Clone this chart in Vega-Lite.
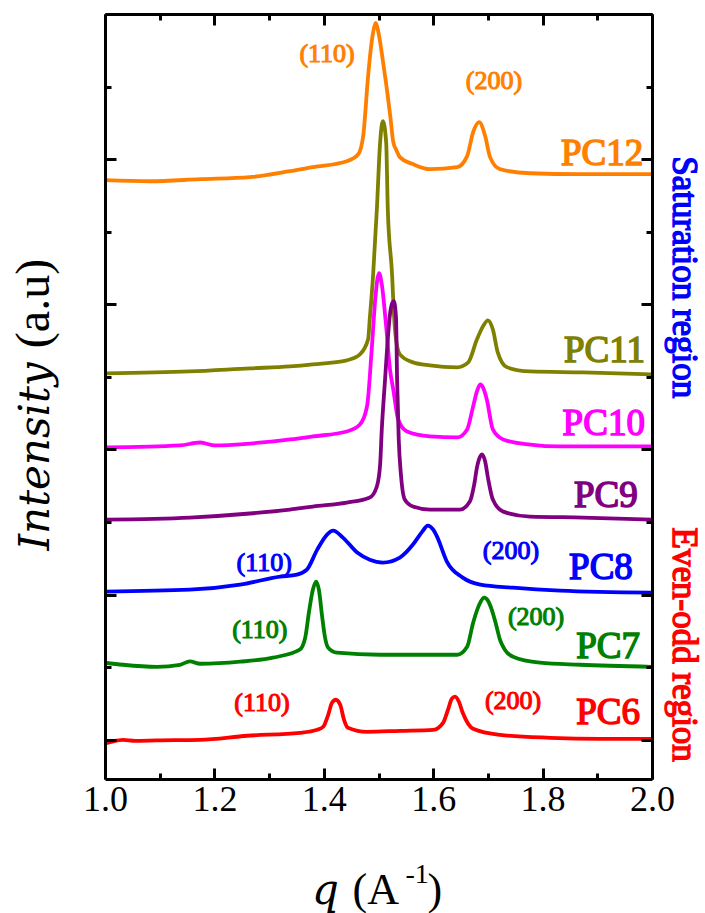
{
  "$schema": "https://vega.github.io/schema/vega-lite/v6.json",
  "width": 547,
  "height": 765,
  "autosize": {"type": "none"},
  "padding": {"left": 105, "top": 14, "right": 53, "bottom": 134},
  "background": "white",
  "config": {
    "view": {"stroke": null},
    "axis": {"grid": false, "domainColor": "black", "tickColor": "black", "domainWidth": 3, "tickWidth": 3, "labelFont": "Liberation Serif", "titleFont": "Liberation Serif", "labelColor": "black", "titleColor": "black", "labelFlush": false, "labelOverlap": false}
  },
  "datasets": {
    "curves": [
      {"s":"PC12","q":1.000,"I":3.855},{"s":"PC12","q":1.082,"I":3.848},{"s":"PC12","q":1.174,"I":3.862},{"s":"PC12","q":1.265,"I":3.876},{"s":"PC12","q":1.338,"I":3.917},{"s":"PC12","q":1.380,"I":3.945},{"s":"PC12","q":1.442,"I":3.986},{"s":"PC12","q":1.463,"I":4.034},{"s":"PC12","q":1.472,"I":4.159},{"s":"PC12","q":1.481,"I":4.572},{"s":"PC12","q":1.486,"I":4.76},{"s":"PC12","q":1.491,"I":4.89},{"s":"PC12","q":1.495,"I":4.938},{"s":"PC12","q":1.499,"I":4.89},{"s":"PC12","q":1.503,"I":4.807},{"s":"PC12","q":1.509,"I":4.65},{"s":"PC12","q":1.516,"I":4.462},{"s":"PC12","q":1.522,"I":4.28},{"s":"PC12","q":1.527,"I":4.117},{"s":"PC12","q":1.533,"I":4.06},{"s":"PC12","q":1.539,"I":4.014},{"s":"PC12","q":1.563,"I":3.966},{"s":"PC12","q":1.594,"I":3.931},{"s":"PC12","q":1.644,"I":3.945},{"s":"PC12","q":1.662,"I":4.021},{"s":"PC12","q":1.673,"I":4.186},{"s":"PC12","q":1.684,"I":4.255},{"s":"PC12","q":1.695,"I":4.159},{"s":"PC12","q":1.704,"I":4.014},{"s":"PC12","q":1.722,"I":3.931},{"s":"PC12","q":1.777,"I":3.903},{"s":"PC12","q":1.868,"I":3.897},{"s":"PC12","q":2.000,"I":3.897},

      {"s":"PC11","q":1.000,"I":2.524},{"s":"PC11","q":1.155,"I":2.538},{"s":"PC11","q":1.265,"I":2.559},{"s":"PC11","q":1.338,"I":2.572},{"s":"PC11","q":1.380,"I":2.586},{"s":"PC11","q":1.442,"I":2.614},{"s":"PC11","q":1.466,"I":2.655},{"s":"PC11","q":1.481,"I":2.759},{"s":"PC11","q":1.484,"I":2.897},{"s":"PC11","q":1.490,"I":3.193},{"s":"PC11","q":1.497,"I":3.655},{"s":"PC11","q":1.503,"I":4.117},{"s":"PC11","q":1.508,"I":4.262},{"s":"PC11","q":1.514,"I":4.117},{"s":"PC11","q":1.517,"I":3.655},{"s":"PC11","q":1.525,"I":3.193},{"s":"PC11","q":1.528,"I":2.945},{"s":"PC11","q":1.532,"I":2.759},{"s":"PC11","q":1.539,"I":2.655},{"s":"PC11","q":1.563,"I":2.600},{"s":"PC11","q":1.594,"I":2.579},{"s":"PC11","q":1.644,"I":2.566},{"s":"PC11","q":1.664,"I":2.600},{"s":"PC11","q":1.680,"I":2.759},{"s":"PC11","q":1.691,"I":2.848},{"s":"PC11","q":1.700,"I":2.890},{"s":"PC11","q":1.709,"I":2.828},{"s":"PC11","q":1.718,"I":2.669},{"s":"PC11","q":1.735,"I":2.566},{"s":"PC11","q":1.777,"I":2.538},{"s":"PC11","q":1.874,"I":2.531},{"s":"PC11","q":2.000,"I":2.517},

      {"s":"PC10","q":1.000,"I":2.014},{"s":"PC10","q":1.137,"I":2.028},{"s":"PC10","q":1.174,"I":2.048},{"s":"PC10","q":1.201,"I":2.028},{"s":"PC10","q":1.265,"I":2.041},{"s":"PC10","q":1.338,"I":2.069},{"s":"PC10","q":1.380,"I":2.090},{"s":"PC10","q":1.442,"I":2.124},{"s":"PC10","q":1.466,"I":2.172},{"s":"PC10","q":1.479,"I":2.297},{"s":"PC10","q":1.488,"I":2.710},{"s":"PC10","q":1.494,"I":3.034},{"s":"PC10","q":1.501,"I":3.214},{"s":"PC10","q":1.506,"I":3.138},{"s":"PC10","q":1.514,"I":2.848},{"s":"PC10","q":1.521,"I":2.552},{"s":"PC10","q":1.527,"I":2.414},{"s":"PC10","q":1.536,"I":2.207},{"s":"PC10","q":1.552,"I":2.124},{"s":"PC10","q":1.594,"I":2.090},{"s":"PC10","q":1.644,"I":2.083},{"s":"PC10","q":1.662,"I":2.138},{"s":"PC10","q":1.673,"I":2.297},{"s":"PC10","q":1.680,"I":2.400},{"s":"PC10","q":1.686,"I":2.448},{"s":"PC10","q":1.691,"I":2.428},{"s":"PC10","q":1.698,"I":2.345},{"s":"PC10","q":1.709,"I":2.138},{"s":"PC10","q":1.728,"I":2.069},{"s":"PC10","q":1.777,"I":2.034},{"s":"PC10","q":1.832,"I":2.021},{"s":"PC10","q":2.000,"I":2.021},

      {"s":"PC9","q":1.000,"I":1.517},{"s":"PC9","q":1.155,"I":1.531},{"s":"PC9","q":1.265,"I":1.559},{"s":"PC9","q":1.338,"I":1.586},{"s":"PC9","q":1.380,"I":1.607},{"s":"PC9","q":1.442,"I":1.634},{"s":"PC9","q":1.484,"I":1.669},{"s":"PC9","q":1.497,"I":1.745},{"s":"PC9","q":1.503,"I":1.897},{"s":"PC9","q":1.506,"I":2.138},{"s":"PC9","q":1.512,"I":2.483},{"s":"PC9","q":1.516,"I":2.710},{"s":"PC9","q":1.521,"I":2.931},{"s":"PC9","q":1.525,"I":3.007},{"s":"PC9","q":1.528,"I":3.021},{"s":"PC9","q":1.532,"I":2.910},{"s":"PC9","q":1.534,"I":2.483},{"s":"PC9","q":1.537,"I":2.069},{"s":"PC9","q":1.541,"I":1.828},{"s":"PC9","q":1.548,"I":1.655},{"s":"PC9","q":1.563,"I":1.607},{"s":"PC9","q":1.594,"I":1.586},{"s":"PC9","q":1.649,"I":1.586},{"s":"PC9","q":1.667,"I":1.641},{"s":"PC9","q":1.675,"I":1.759},{"s":"PC9","q":1.680,"I":1.876},{"s":"PC9","q":1.686,"I":1.952},{"s":"PC9","q":1.689,"I":1.966},{"s":"PC9","q":1.695,"I":1.917},{"s":"PC9","q":1.700,"I":1.807},{"s":"PC9","q":1.709,"I":1.655},{"s":"PC9","q":1.728,"I":1.572},{"s":"PC9","q":1.777,"I":1.538},{"s":"PC9","q":1.874,"I":1.531},{"s":"PC9","q":2.000,"I":1.517},

      {"s":"PC8","q":1.000,"I":1.021},{"s":"PC8","q":1.155,"I":1.034},{"s":"PC8","q":1.247,"I":1.069},{"s":"PC8","q":1.320,"I":1.124},{"s":"PC8","q":1.351,"I":1.138},{"s":"PC8","q":1.369,"I":1.172},{"s":"PC8","q":1.388,"I":1.310},{"s":"PC8","q":1.406,"I":1.414},{"s":"PC8","q":1.417,"I":1.441},{"s":"PC8","q":1.435,"I":1.393},{"s":"PC8","q":1.461,"I":1.290},{"s":"PC8","q":1.484,"I":1.241},{"s":"PC8","q":1.508,"I":1.221},{"s":"PC8","q":1.539,"I":1.255},{"s":"PC8","q":1.563,"I":1.345},{"s":"PC8","q":1.580,"I":1.434},{"s":"PC8","q":1.590,"I":1.476},{"s":"PC8","q":1.600,"I":1.448},{"s":"PC8","q":1.607,"I":1.400},{"s":"PC8","q":1.625,"I":1.228},{"s":"PC8","q":1.654,"I":1.117},{"s":"PC8","q":1.686,"I":1.069},{"s":"PC8","q":1.746,"I":1.048},{"s":"PC8","q":1.832,"I":1.028},{"s":"PC8","q":2.000,"I":1.014},

      {"s":"PC7","q":1.000,"I":0.531},{"s":"PC7","q":1.033,"I":0.517},{"s":"PC7","q":1.095,"I":0.503},{"s":"PC7","q":1.137,"I":0.517},{"s":"PC7","q":1.155,"I":0.540},{"s":"PC7","q":1.174,"I":0.524},{"s":"PC7","q":1.247,"I":0.538},{"s":"PC7","q":1.307,"I":0.566},{"s":"PC7","q":1.356,"I":0.621},{"s":"PC7","q":1.366,"I":0.703},{"s":"PC7","q":1.373,"I":0.883},{"s":"PC7","q":1.380,"I":1.034},{"s":"PC7","q":1.386,"I":1.090},{"s":"PC7","q":1.391,"I":1.034},{"s":"PC7","q":1.397,"I":0.848},{"s":"PC7","q":1.402,"I":0.710},{"s":"PC7","q":1.408,"I":0.634},{"s":"PC7","q":1.424,"I":0.600},{"s":"PC7","q":1.503,"I":0.586},{"s":"PC7","q":1.563,"I":0.586},{"s":"PC7","q":1.644,"I":0.586},{"s":"PC7","q":1.662,"I":0.641},{"s":"PC7","q":1.673,"I":0.807},{"s":"PC7","q":1.686,"I":0.945},{"s":"PC7","q":1.693,"I":0.979},{"s":"PC7","q":1.700,"I":0.959},{"s":"PC7","q":1.707,"I":0.897},{"s":"PC7","q":1.715,"I":0.793},{"s":"PC7","q":1.722,"I":0.690},{"s":"PC7","q":1.731,"I":0.621},{"s":"PC7","q":1.746,"I":0.572},{"s":"PC7","q":1.795,"I":0.531},{"s":"PC7","q":1.868,"I":0.517},{"s":"PC7","q":2.000,"I":0.503},

      {"s":"PC6","q":1.000,"I":-0.025},{"s":"PC6","q":1.013,"I":-0.012},{"s":"PC6","q":1.033,"I":0.000},{"s":"PC6","q":1.055,"I":-0.007},{"s":"PC6","q":1.095,"I":-0.004},{"s":"PC6","q":1.174,"I":0.000},{"s":"PC6","q":1.260,"I":0.028},{"s":"PC6","q":1.356,"I":0.048},{"s":"PC6","q":1.388,"I":0.069},{"s":"PC6","q":1.399,"I":0.090},{"s":"PC6","q":1.408,"I":0.172},{"s":"PC6","q":1.415,"I":0.255},{"s":"PC6","q":1.422,"I":0.276},{"s":"PC6","q":1.430,"I":0.241},{"s":"PC6","q":1.437,"I":0.138},{"s":"PC6","q":1.444,"I":0.083},{"s":"PC6","q":1.479,"I":0.055},{"s":"PC6","q":1.539,"I":0.062},{"s":"PC6","q":1.600,"I":0.069},{"s":"PC6","q":1.618,"I":0.117},{"s":"PC6","q":1.627,"I":0.207},{"s":"PC6","q":1.634,"I":0.283},{"s":"PC6","q":1.640,"I":0.297},{"s":"PC6","q":1.647,"I":0.262},{"s":"PC6","q":1.654,"I":0.186},{"s":"PC6","q":1.664,"I":0.110},{"s":"PC6","q":1.673,"I":0.076},{"s":"PC6","q":1.722,"I":0.034},{"s":"PC6","q":1.814,"I":0.014},{"s":"PC6","q":1.905,"I":0.007},{"s":"PC6","q":2.000,"I":0.007}
    ],
    "hkl110": [
      {"s":"PC12","t":"(110)","q":1.406,"I":4.724},
      {"s":"PC8","t":"(110)","q":1.291,"I":1.221},
      {"s":"PC7","t":"(110)","q":1.283,"I":0.759},
      {"s":"PC6","t":"(110)","q":1.287,"I":0.255}
    ],
    "hkl200": [
      {"s":"PC12","t":"(200)","q":1.711,"I":4.538},
      {"s":"PC8","t":"(200)","q":1.742,"I":1.303},
      {"s":"PC7","t":"(200)","q":1.788,"I":0.848},
      {"s":"PC6","t":"(200)","q":1.746,"I":0.269}
    ],
    "pc": [
      {"s":"PC12","t":"PC12","q":1.984,"I":4.034},
      {"s":"PC11","t":"PC11","q":1.987,"I":2.676},
      {"s":"PC10","t":"PC10","q":1.987,"I":2.179},
      {"s":"PC9","t":"PC9","q":1.974,"I":1.683},
      {"s":"PC8","t":"PC8","q":1.965,"I":1.186},
      {"s":"PC7","t":"PC7","q":1.978,"I":0.641},
      {"s":"PC6","t":"PC6","q":1.978,"I":0.186}
    ],
    "sat": [{"t":"Saturation region","q":2.058,"I":3.186}],
    "evenodd": [{"t":"Even-odd region","q":2.058,"I":0.655}]
  },
  "resolve": {"axis": {"x": "independent", "y": "independent"}},
  "layer": [
    {
      "data": {"name": "curves"},
      "mark": {"type": "line", "interpolate": "monotone", "strokeWidth": 3.8, "clip": true},
      "encoding": {
        "x": {"field": "q", "type": "quantitative", "scale": {"domain": [1, 2], "nice": false, "zero": false},
          "axis": {"orient": "bottom", "values": [1, 1.2, 1.4, 1.6, 1.8, 2], "format": ".1f", "tickSize": -11, "labelFont": "Liberation Serif", "labelFontSize": 36, "labelPadding": 14, "domain": true,
            "title": "q", "titleFont": "DejaVu Serif", "titleFontStyle": "italic", "titleFontSize": 42, "titleFontWeight": "normal", "titleX": 220, "titleY": 124, "titleBaseline": "alphabetic", "titleAlign": "center", "zindex": 2}},
        "y": {"field": "I", "type": "quantitative", "scale": {"domain": [-0.27, 5.0], "nice": false, "zero": false},
          "axis": {"orient": "left", "values": [0, 1, 2, 3, 4, 5], "labels": false, "tickSize": -11, "domain": true,
            "title": "Intensity", "titleFont": "DejaVu Serif", "titleFontStyle": "italic", "titleFontSize": 42, "titleFontWeight": "normal", "titleAngle": -90, "titleX": -57, "titleY": 442, "titleBaseline": "alphabetic", "titleAlign": "center", "zindex": 2}},
        "color": {"field": "s", "type": "nominal",
          "scale": {"domain": ["PC6", "PC7", "PC8", "PC9", "PC10", "PC11", "PC12"], "range": ["#FF0000", "#008000", "#0000FF", "#800080", "#FF00FF", "#808000", "#FF8000"]},
          "legend": null}
      }
    },
    {
      "data": {"name": "hkl110"},
      "mark": {"type": "text", "font": "Liberation Serif", "fontWeight": "normal", "fontSize": 26, "align": "center", "baseline": "middle", "strokeWidth": 1.1},
      "encoding": {
        "x": {"field": "q", "type": "quantitative",
          "axis": {"orient": "bottom", "values": [1.1, 1.3, 1.5, 1.7, 1.9], "labels": false, "tickSize": -6, "domain": false,
            "title": "(A", "titleFont": "Liberation Serif", "titleFontSize": 44, "titleFontWeight": "normal", "titleX": 247, "titleY": 124, "titleAlign": "left", "titleBaseline": "alphabetic", "zindex": 2}},
        "y": {"field": "I", "type": "quantitative",
          "axis": {"orient": "left", "values": [0.5, 1.5, 2.5, 3.5, 4.5], "labels": false, "tickSize": -6, "domain": false,
            "title": "(a.u)", "titleFont": "Liberation Serif", "titleFontSize": 48, "titleFontWeight": "normal", "titleAngle": -90, "titleX": -57, "titleY": 289, "titleAlign": "center", "titleBaseline": "alphabetic", "zindex": 2}},
        "text": {"field": "t"},
        "color": {"field": "s", "type": "nominal", "legend": null},
        "stroke": {"field": "s", "type": "nominal", "legend": null,
          "scale": {"domain": ["PC6", "PC7", "PC8", "PC9", "PC10", "PC11", "PC12"], "range": ["#FF0000", "#008000", "#0000FF", "#800080", "#FF00FF", "#808000", "#FF8000"]}}
      }
    },
    {
      "data": {"name": "hkl200"},
      "mark": {"type": "text", "font": "Liberation Serif", "fontWeight": "normal", "fontSize": 26, "align": "center", "baseline": "middle", "strokeWidth": 1.1},
      "encoding": {
        "x": {"field": "q", "type": "quantitative",
          "axis": {"orient": "top", "values": [1, 1.2, 1.4, 1.6, 1.8, 2], "labels": false, "tickSize": -11, "domain": true,
            "title": "-1", "titleFont": "Liberation Serif", "titleFontSize": 28, "titleFontWeight": "normal", "titleX": 300, "titleY": 868, "titleAlign": "left", "titleBaseline": "alphabetic", "zindex": 2}},
        "y": {"field": "I", "type": "quantitative",
          "axis": {"orient": "right", "values": [0, 1, 2, 3, 4, 5], "labels": false, "tickSize": -11, "domain": true, "title": null, "zindex": 2}},
        "text": {"field": "t"},
        "color": {"field": "s", "type": "nominal", "legend": null},
        "stroke": {"field": "s", "type": "nominal", "legend": null}
      }
    },
    {
      "data": {"name": "pc"},
      "mark": {"type": "text", "font": "Liberation Serif", "fontWeight": "normal", "fontSize": 37, "align": "right", "baseline": "middle", "strokeWidth": 1.5},
      "encoding": {
        "x": {"field": "q", "type": "quantitative",
          "axis": {"orient": "top", "values": [1.1, 1.3, 1.5, 1.7, 1.9], "labels": false, "tickSize": -6, "domain": false,
            "title": ")", "titleFont": "Liberation Serif", "titleFontSize": 44, "titleFontWeight": "normal", "titleX": 322, "titleY": 889, "titleAlign": "left", "titleBaseline": "alphabetic", "zindex": 2}},
        "y": {"field": "I", "type": "quantitative",
          "axis": {"orient": "right", "values": [0.5, 1.5, 2.5, 3.5, 4.5], "labels": false, "tickSize": -6, "domain": false, "title": null, "zindex": 2}},
        "text": {"field": "t"},
        "color": {"field": "s", "type": "nominal", "legend": null},
        "stroke": {"field": "s", "type": "nominal", "legend": null}
      }
    },
    {
      "data": {"name": "sat"},
      "mark": {"type": "text", "font": "Liberation Serif", "fontSize": 35, "angle": 90, "align": "center", "baseline": "middle", "color": "#0000FF", "stroke": "#0000FF", "strokeWidth": 1.4},
      "encoding": {
        "x": {"field": "q", "type": "quantitative", "axis": null},
        "y": {"field": "I", "type": "quantitative", "axis": null},
        "text": {"field": "t"}
      }
    },
    {
      "data": {"name": "evenodd"},
      "mark": {"type": "text", "font": "Liberation Serif", "fontSize": 35, "angle": 90, "align": "center", "baseline": "middle", "color": "#FF0000", "stroke": "#FF0000", "strokeWidth": 1.4},
      "encoding": {
        "x": {"field": "q", "type": "quantitative", "axis": null},
        "y": {"field": "I", "type": "quantitative", "axis": null},
        "text": {"field": "t"}
      }
    }
  ]
}
